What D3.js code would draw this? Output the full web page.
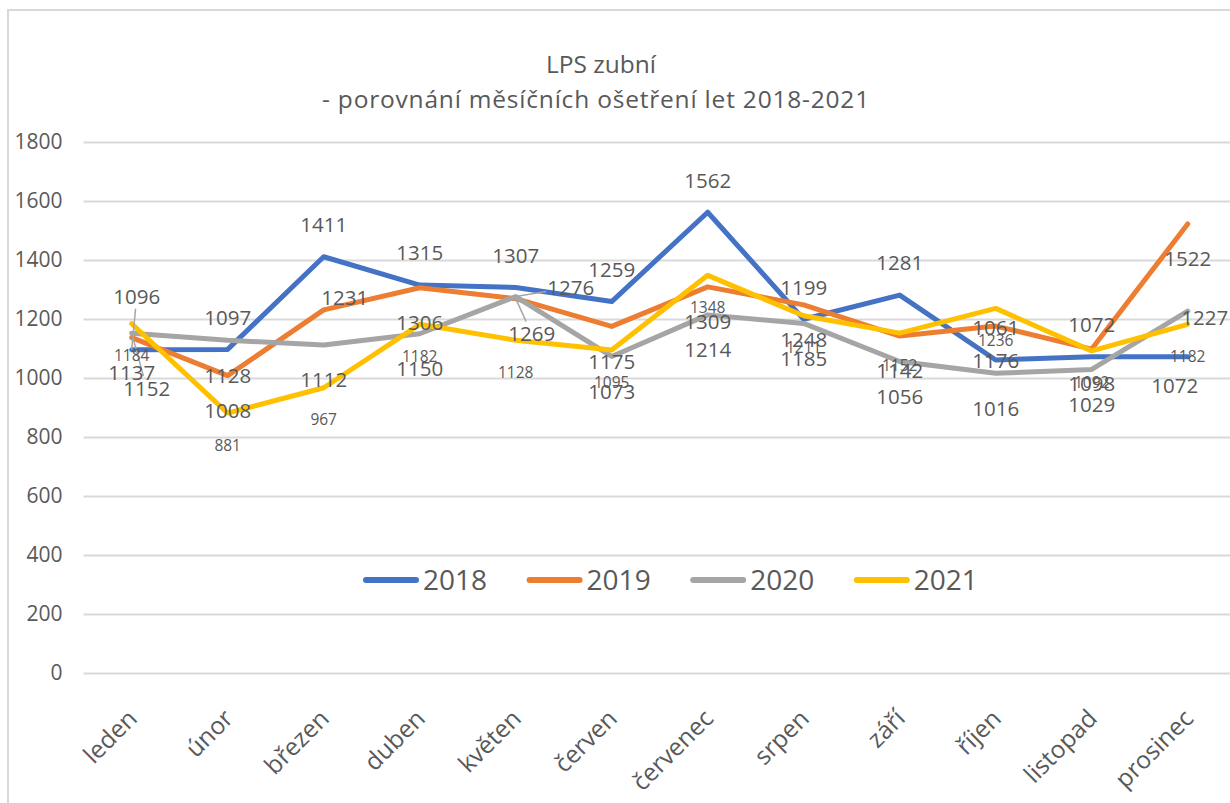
<!DOCTYPE html>
<html>
<head>
<meta charset="utf-8">
<script src="https://cdn.jsdelivr.net/npm/d3@7"></script>
<style>
  body { margin: 0; background: #fff; }
  text { font-family: "Open Sans", sans-serif; fill: #595959; }
</style>
</head>
<body>
<div id="graph"></div>
<script>
// categories + values per year
var months = ['leden', 'únor', 'březen', 'duben', 'květen', 'červen',
              'červenec', 'srpen', 'září', 'říjen', 'listopad', 'prosinec'];
var years = ['2018', '2019', '2020', '2021'];
var v2018 = [1096, 1097, 1411, 1315, 1307, 1259, 1562, 1199, 1281, 1061, 1072, 1072];
var v2019 = [1137, 1008, 1231, 1306, 1269, 1175, 1309, 1248, 1142, 1176, 1098, 1522];
var v2020 = [1152, 1128, 1112, 1150, 1276, 1073, 1214, 1185, 1056, 1016, 1029, 1227];
var v2021 = [1184, 881, 967, 1182, 1128, 1095, 1348, 1211, 1152, 1236, 1092, 1182];
var yTicks = [0, 200, 400, 600, 800, 1000, 1200, 1400, 1600, 1800];

var series = [v2018, v2019, v2020, v2021].map(function(vals, i){
  return { year: years[i], values: vals };
});

var width = 1230, height = 803;
var color = d3.scaleOrdinal().domain(years)
  .range(['#4472c4', '#ed7d31', '#a5a5a5', '#ffc000']);

// label placement (excel had them dragged around a bit)
var labelDy = [-32, 35, 35, 32];
var labelSize = [20.5, 20.5, 20.5, 15.5];
var labelMoved = {
  '0-0': [5, -53, true], '0-11': [-13, 29],
  '1-2': [21, -12], '1-4': [16, 35, true],
  '2-0': [15, 55, true], '2-4': [55, -9, true], '2-11': [17, 7]
};

var svg = d3.select('#graph').append('svg')
  .attr('width', width).attr('height', height);

svg.append('rect')
  .attr('x', 8).attr('y', 10).attr('width', 1260).attr('height', 840)
  .attr('fill', '#fff').attr('stroke', '#d9d9d9').attr('stroke-width', 2);

var x = d3.scalePoint().domain(months).range([83.7, 1235.7]).padding(0.5);
var y = d3.scaleLinear().domain([0, 1800]).range([673, 142]);

// title
var title = svg.append('text').attr('text-anchor', 'middle').style('font-size', '24.5px');
title.append('tspan').attr('x', 601).attr('y', 73).text('LPS zubní');
title.append('tspan').attr('x', 596).attr('y', 108)
  .style('letter-spacing', '0.8px')
  .text('- porovnání měsíčních ošetření let 2018-2021');

// grid
var yAxis = svg.append('g')
  .attr('transform', 'translate(83.5,0)')
  .call(d3.axisLeft(y).tickValues(yTicks).tickSize(-1160).tickPadding(21).tickFormat(d3.format('d')));
yAxis.select('.domain').remove();
yAxis.selectAll('.tick line').attr('stroke', '#d9d9d9').attr('stroke-width', 2);
yAxis.selectAll('.tick text').style('font-size', '21px').attr('fill', '#595959');

// x labels
var xAxis = svg.append('g');
xAxis.selectAll('text').data(months).enter().append('text')
  .attr('transform', function(d){ return 'translate(' + (x(d) + 7) + ',720) rotate(-45)'; })
  .attr('text-anchor', 'end')
  .style('font-size', '24.5px')
  .text(function(d){ return d; });

// lines
var line = d3.line()
  .x(function(d, i){ return x(months[i]); })
  .y(function(d){ return y(d); });

svg.append('g').selectAll('path').data(series).enter().append('path')
  .attr('d', function(d){ return line(d.values); })
  .attr('fill', 'none')
  .attr('stroke', function(d){ return color(d.year); })
  .attr('stroke-width', 5)
  .attr('stroke-linejoin', 'round')
  .attr('stroke-linecap', 'round');

// data labels
var labels = svg.append('g');
var leaders = labels.append('g');
series.forEach(function(s, si){
  s.values.forEach(function(v, i){
    var m = labelMoved[si + '-' + i];
    var dx = m ? m[0] : 0, dy = m ? m[1] : labelDy[si];
    var px = x(months[i]), py = y(v);
    var t = labels.append('text')
      .attr('x', px + dx).attr('y', py + dy)
      .attr('dy', '0.36em')
      .attr('text-anchor', 'middle')
      .style('font-size', labelSize[si] + 'px')
      .text(v);
    if (m && m[2]) {
      var b = t.node().getBBox();
      var cx = b.x + b.width / 2, cy = py + dy;
      var ddx = cx - px, ddy = cy - py;
      var k = Math.min(
        Math.abs((b.width / 2 + 1) / (ddx || 1e-6)),
        Math.abs((b.height / 2 - 2) / (ddy || 1e-6)));
      leaders.append('line')
        .attr('x1', px).attr('y1', py)
        .attr('x2', cx - ddx * k).attr('y2', cy - ddy * k)
        .attr('stroke', '#a6a6a6').attr('stroke-width', 1.5);
    }
  });
});

// legend
var legend = svg.append('g').attr('transform', 'translate(366,580)');
var li = legend.selectAll('g').data(years).enter().append('g')
  .attr('transform', function(d, i){ return 'translate(' + (i * 163.6) + ',0)'; });
li.append('line').attr('x1', 0).attr('x2', 50)
  .attr('stroke', function(d){ return color(d); })
  .attr('stroke-width', 6).attr('stroke-linecap', 'round');
li.append('text').attr('x', 57).attr('y', 10)
  .style('font-size', '28px').text(function(d){ return d; });
</script>
</body>
</html>
